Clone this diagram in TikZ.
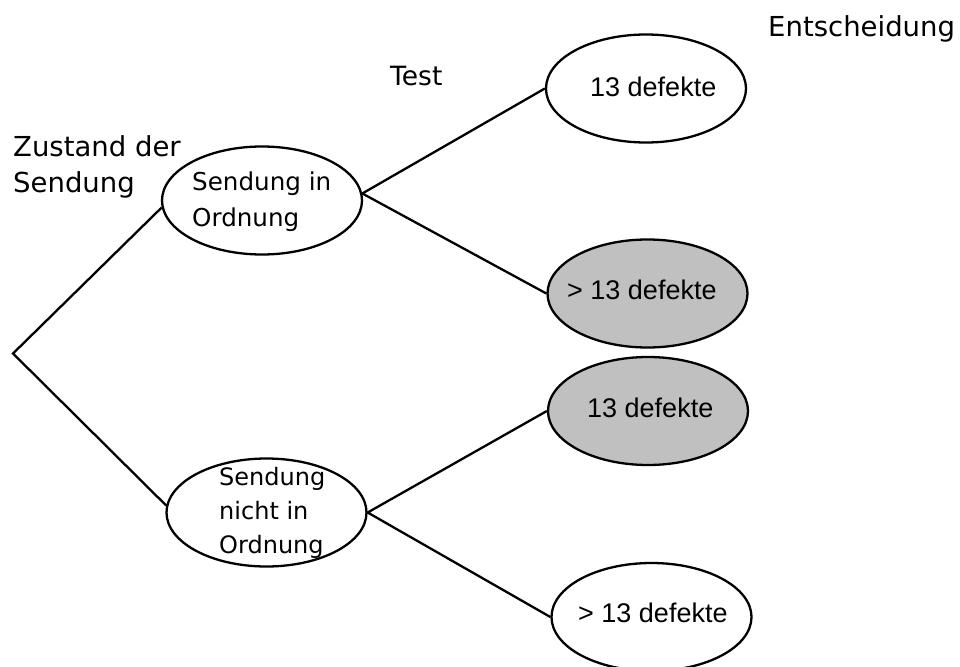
\documentclass[tikz,border=0pt]{standalone}
\usepackage{fontspec}
\usetikzlibrary{shapes.geometric}
\newfontfamily\vfont{DejaVu Sans}
\newfontfamily\afont{Liberation Sans}
\definecolor{grayfill}{RGB}{192,192,192}
\begin{document}
\begin{tikzpicture}[x=1pt,y=-1pt,
  ell/.style={ellipse,draw,line width=2.3pt,minimum width=200pt,minimum height=108pt,inner sep=0pt},
  grey/.style={ell,fill=grayfill},
  conn/.style={line width=2.3pt},
  head/.style={inner sep=0pt,font=\vfont\fontsize{27.5}{36}\selectfont,align=left},
  ltxt/.style={inner sep=0pt,font=\vfont\fontsize{24.6}{36}\selectfont,align=left,anchor=west},
  dtxt/.style={inner sep=0pt,font=\afont\fontsize{27}{32}\selectfont,anchor=base west}]
\useasboundingbox (0,0) rectangle (960,666);
% headings
\node[head,anchor=west] (hzust) at (13,167) {Zustand der\\Sendung};
\node[head,anchor=base west,font=\vfont\fontsize{26.5}{32}\selectfont] (htest) at (390,86) {Test};
\node[head,anchor=base west] (hents) at (768,37) {Entscheidung};
% ellipses
\coordinate (root) at (13,353.5);
\node[ell] (e1) at (262,200.5) {};
\node[ell] (e2) at (266.5,512.5) {};
\node[ell] (etop) at (646,88.5) {};
\node[grey] (g1) at (647.5,293.5) {};
\node[grey] (g2) at (648,411) {};
\node[ell] (wb) at (651.5,617) {};
% texts
\node[ltxt] (t1) at (192,201.5) {Sendung in\\Ordnung};
\node[ltxt,font=\vfont\fontsize{24}{34}\selectfont] (t2) at (219,512.7) {Sendung\\nicht in\\Ordnung};
\node[dtxt] (ttop) at (590,97) {13 defekte};
\node[dtxt] (tg1) at (567,299) {> 13 defekte};
\node[dtxt] (tg2) at (587,417) {13 defekte};
\node[dtxt] (twb) at (578,622) {> 13 defekte};
% connectors
\draw[conn] (e1.184) -- (root) -- (e2.176);
\draw[conn] (etop.west) -- (e1.4) -- (g1.west);
\draw[conn] (g2.west) -- (e2.east) -- (wb.west);
\end{tikzpicture}
\end{document}
